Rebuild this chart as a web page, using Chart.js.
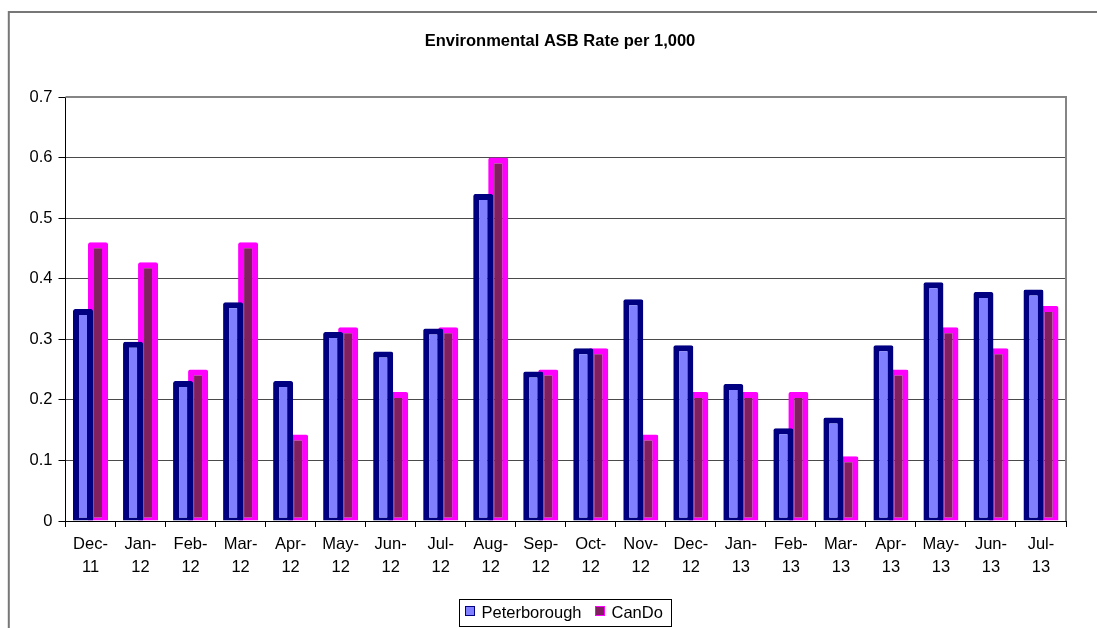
<!DOCTYPE html>
<html>
<head>
<meta charset="utf-8">
<title>Environmental ASB Rate per 1,000</title>
<script src="https://cdn.jsdelivr.net/npm/chart.js@4/dist/chart.umd.min.js"></script>
<style>
  html, body { margin: 0; padding: 0; background: #ffffff; }
  #wrap { width: 1097px; height: 628px; }
</style>
</head>
<body>
<div id="wrap"><canvas id="chart" width="1097" height="628"></canvas></div>
<script>
// Monthly rates per 1,000
const categories = ['Dec-11','Jan-12','Feb-12','Mar-12','Apr-12','May-12','Jun-12','Jul-12','Aug-12','Sep-12',
                    'Oct-12','Nov-12','Dec-12','Jan-13','Feb-13','Mar-13','Apr-13','May-13','Jun-13','Jul-13'];
const peterborough = [0.35, 0.296, 0.231, 0.361, 0.231, 0.312, 0.28, 0.318, 0.54, 0.247,
                      0.285, 0.366, 0.29, 0.226, 0.153, 0.171, 0.29, 0.394, 0.378, 0.382];
const canDo = [0.46, 0.427, 0.25, 0.46, 0.143, 0.32, 0.213, 0.32, 0.6, 0.25,
               0.285, 0.143, 0.213, 0.213, 0.213, 0.107, 0.25, 0.32, 0.285, 0.355];
const seriesNames = ['Peterborough', 'CanDo'];
const yTickLabels = ['0', '0.1', '0.2', '0.3', '0.4', '0.5', '0.6', '0.7'];
const chartTitle = 'Environmental ASB Rate per 1,000';

const FONT = '"Liberation Sans", Arial, Helvetica, sans-serif';

// "Dec-11" -> ["Dec-", "11"]
const axisLabels = categories.map(c => {
  const [m, y] = c.split('-');
  return [m + '-', y];
});

const barStyle = {
  borderWidth: { top: 6, left: 6, right: 6, bottom: 3 },
  borderSkipped: false,
  borderRadius: { topLeft: 2, topRight: 2, bottomLeft: 0, bottomRight: 0 },
  categoryPercentage: 0.6,
  barPercentage: 1.333
};

// Page frame, title, plot frame and boxed legend
const decorations = {
  id: 'decorations',
  beforeDraw(chart) {
    const ctx = chart.ctx;
    ctx.save();
    ctx.fillStyle = '#ffffff';
    ctx.fillRect(0, 0, chart.width, chart.height);
    ctx.restore();
  },
  afterDraw(chart) {
    const ctx = chart.ctx;
    const a = chart.chartArea;
    ctx.save();

    // outer frame (runs off the right and bottom edges)
    ctx.strokeStyle = '#777777';
    ctx.lineWidth = 2;
    ctx.beginPath();
    ctx.moveTo(8.8, chart.height + 5);
    ctx.lineTo(8.8, 12);
    ctx.lineTo(chart.width + 5, 12);
    ctx.stroke();

    // plot frame: top and right edges
    ctx.strokeStyle = '#858585';
    ctx.lineWidth = 2;
    ctx.beginPath();
    ctx.moveTo(a.left, a.top);
    ctx.lineTo(a.right, a.top);
    ctx.lineTo(a.right, a.bottom);
    ctx.stroke();

    // title
    ctx.fillStyle = '#000000';
    ctx.font = 'bold 16.5px ' + FONT;
    ctx.textAlign = 'center';
    ctx.textBaseline = 'alphabetic';
    ctx.fillText(chartTitle, 560, 46);

    // legend box
    ctx.strokeStyle = '#000000';
    ctx.lineWidth = 1;
    ctx.strokeRect(459.5, 599.5, 212, 27);
    ctx.font = '16.5px ' + FONT;
    ctx.textAlign = 'left';
    const items = [{ x: 465 }, { x: 595 }];
    chart.data.datasets.forEach((ds, i) => {
      const x = items[i].x;
      ctx.fillStyle = ds.backgroundColor;
      ctx.fillRect(x, 606, 9, 10);
      ctx.strokeStyle = ds.borderColor;
      ctx.lineWidth = 1;
      ctx.strokeRect(x + 0.5, 606.5, 9, 9);
      ctx.fillStyle = '#000000';
      ctx.fillText(ds.label, x + 16.5, 617.5);
    });
    ctx.restore();
  }
};

new Chart(document.getElementById('chart'), {
  type: 'bar',
  data: {
    labels: axisLabels,
    datasets: [
      Object.assign({
        label: seriesNames[0],
        data: peterborough,
        backgroundColor: '#8080FF',
        borderColor: '#000080'
      }, barStyle),
      Object.assign({
        label: seriesNames[1],
        data: canDo,
        backgroundColor: '#802060',
        borderColor: '#FF00FF'
      }, barStyle)
    ]
  },
  options: {
    responsive: false,
    devicePixelRatio: 1,
    animation: false,
    layout: { padding: { top: 97, right: 31, bottom: 0, left: 0 } },
    plugins: {
      legend: { display: false },
      title: { display: false },
      tooltip: { enabled: false }
    },
    scales: {
      x: {
        offset: true,
        grid: {
          offset: true,
          drawOnChartArea: false,
          drawTicks: true,
          tickLength: 6,
          tickColor: '#000000'
        },
        border: { color: '#000000', width: 1 },
        ticks: {
          autoSkip: false,
          maxRotation: 0,
          minRotation: 0,
          padding: 6,
          color: '#000000',
          font: { family: FONT, size: 16.5, lineHeight: 1.39 }
        },
        afterFit(scale) { scale.height = 107; }
      },
      y: {
        min: 0,
        max: 0.7,
        grid: {
          color: '#4a4a4a',
          lineWidth: 1,
          drawTicks: true,
          tickLength: 7,
          tickColor: '#000000'
        },
        border: { color: '#000000', width: 1 },
        ticks: {
          stepSize: 0.1,
          padding: 6,
          color: '#000000',
          font: { family: FONT, size: 16.5 },
          callback: (value, index) => yTickLabels[index]
        },
        afterFit(scale) { scale.width = 65.5; }
      }
    }
  },
  plugins: [decorations]
});
</script>
</body>
</html>
